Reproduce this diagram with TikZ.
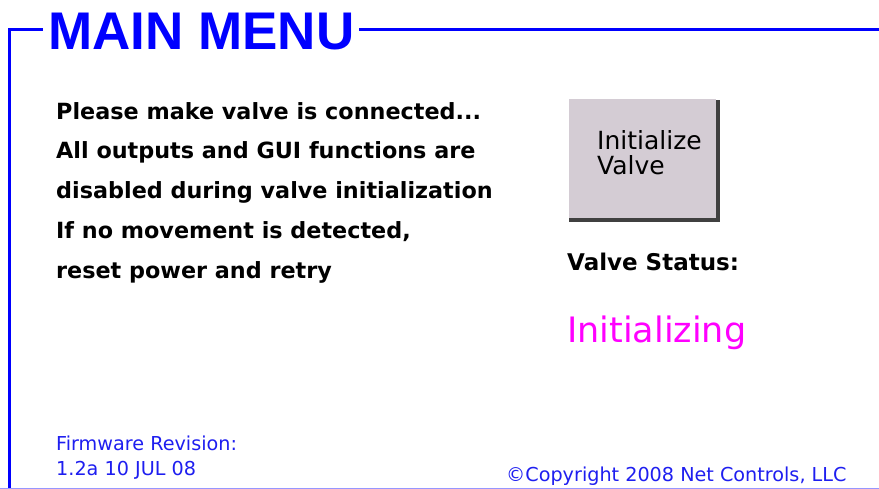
\documentclass[tikz,border=0pt]{standalone}
\usepackage{fontspec}
\setmainfont{DejaVu Sans}
\newfontfamily\titlefont{Liberation Sans}
\newfontfamily\tahfont{DejaVu Sans}
\definecolor{menublue}{RGB}{0,0,255}
\definecolor{txtblue}{RGB}{30,30,240}
\definecolor{btnfill}{RGB}{212,204,212}
\definecolor{btndark}{RGB}{64,64,64}
\definecolor{magentatxt}{RGB}{255,0,255}
\definecolor{edgeblue}{RGB}{150,150,255}
\begin{document}
\begin{tikzpicture}[x=1pt,y=-1pt,
  bodytext/.style={anchor=base west,inner sep=0pt,font=\tahfont\bfseries\fontsize{22.3}{22.3}\selectfont},
  smalltext/.style={anchor=base west,inner sep=0pt,text=txtblue,font=\tahfont\fontsize{19.2}{19.2}\selectfont},
  btntext/.style={align=left,inner sep=0pt,font=\tahfont\fontsize{25}{25}\selectfont}]
\useasboundingbox (0,0) rectangle (879,489);
\fill[white] (0,0) rectangle (879,489);
% frame
\draw[menublue,line width=3pt] (879,30) -- (9.5,30) -- (9.5,489);
\draw[edgeblue,line width=1pt] (0,488.5) -- (879,488.5);
\node[fill=white,inner xsep=5pt,inner ysep=0pt,anchor=base west,text=menublue,font=\titlefont\bfseries\fontsize{53}{53}\selectfont] (title) at (43,50) {MAIN MENU};
% left text
\node[bodytext] (l1) at (56,120) {Please make valve is connected...};
\node[bodytext] (l2) at (56,159) {All outputs and GUI functions are};
\node[bodytext] (l3) at (56,199) {disabled during valve initialization};
\node[bodytext] (l4) at (56,239) {If no movement is detected,};
\node[bodytext] (l5) at (56,279) {reset power and retry};
% button
\fill[btndark] (569,100) rectangle (720,222);
\fill[white] (567,98) rectangle (716,218);
\fill[btnfill] (568.5,99.5) rectangle (716,218);
\node[btntext,anchor=base west] (btn) at (597,175) {Initialize\\Valve};
% status
\node[bodytext,font=\tahfont\bfseries\fontsize{23}{23}\selectfont] (status) at (567,271) {Valve Status:};
\node[anchor=base west,inner sep=0pt,text=magentatxt,font=\tahfont\fontsize{35}{35}\selectfont] (init) at (567,343) {Initializing};
% footer
\node[smalltext] (fw1) at (56,450) {Firmware Revision:};
\node[smalltext] (fw2) at (56,475) {1.2a 10 JUL 08};
\node[smalltext] (copy) at (506,481) {©Copyright 2008 Net Controls, LLC};
\end{tikzpicture}
\end{document}
